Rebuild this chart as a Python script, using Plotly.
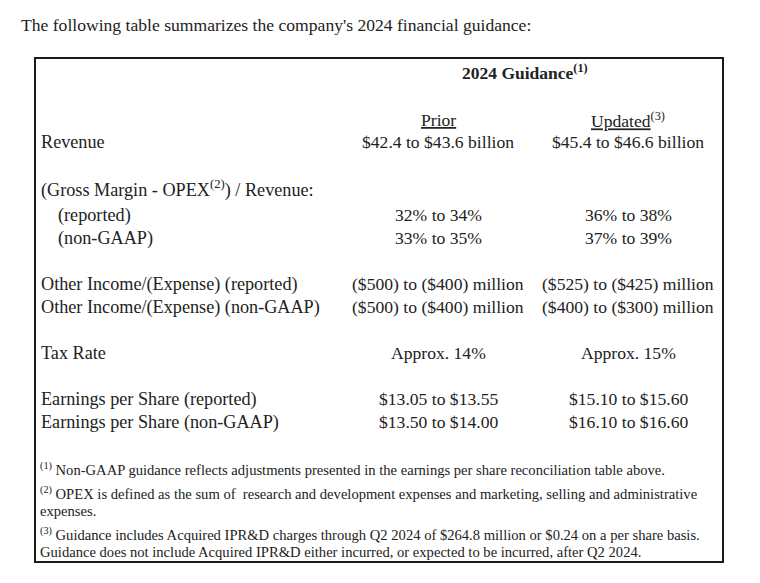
import plotly.graph_objects as go

# ---- data ----
title_text = "The following table summarizes the company's 2024 financial guidance:"
header_text = "2024 Guidance<sup>(1)</sup>"
col_headers = ["<u>Prior</u>", "<u>Updated</u><sup>(3)</sup>"]

row_labels = [
    "Revenue",
    "(Gross Margin - OPEX<sup>(2)</sup>) / Revenue:",
    "(reported)",
    "(non-GAAP)",
    "Other Income/(Expense) (reported)",
    "Other Income/(Expense) (non-GAAP)",
    "Tax Rate",
    "Earnings per Share (reported)",
    "Earnings per Share (non-GAAP)",
]
prior_vals = [
    "$42.4 to $43.6 billion",
    "",
    "32% to 34%",
    "33% to 35%",
    "($500) to ($400) million",
    "($500) to ($400) million",
    "Approx. 14%",
    "$13.05 to $13.55",
    "$13.50 to $14.00",
]
updated_vals = [
    "$45.4 to $46.6 billion",
    "",
    "36% to 38%",
    "37% to 39%",
    "($525) to ($425) million",
    "($400) to ($300) million",
    "Approx. 15%",
    "$15.10 to $15.60",
    "$16.10 to $16.60",
]
footnote_lines = [
    "<sup>(1)</sup> Non-GAAP guidance reflects adjustments presented in the earnings per share reconciliation table above.",
    "<sup>(2)</sup> OPEX is defined as the sum of  research and development expenses and marketing, selling and administrative",
    "expenses.",
    "<sup>(3)</sup> Guidance includes Acquired IPR&D charges through Q2 2024 of $264.8 million or $0.24 on a per share basis.",
    "Guidance does not include Acquired IPR&D either incurred, or expected to be incurred, after Q2 2024.",
]

# ---- layout (pixel coordinates of the page) ----
W, H = 760, 583
OFF = 8  # default page body margin
FONT = "Liberation Serif"
COLOR = "#222222"
row_y = [142, 189, 215, 238, 284, 307, 353, 399, 422]
row_x = [40, 40, 57, 57, 40, 40, 40, 40, 40]
col_x = [438, 628]
foot_y = [469, 493, 511, 534, 552]

fig = go.Figure()
fig.add_trace(go.Scatter(x=[OFF, W], y=[OFF, H], mode="markers",
                         marker=dict(opacity=0), hoverinfo="skip", showlegend=False))

ann = []
def add(text, x, y, size, anchor="left", bold=False):
    ann.append(dict(text=("<b>%s</b>" % text) if bold else text, x=x, y=y,
                    xref="x", yref="y", showarrow=False, xanchor=anchor,
                    yanchor="middle", borderpad=0,
                    font=dict(family=FONT, size=size, color=COLOR)))

add(title_text, 20, 25, 17.6)
add(header_text, 525, 72, 17.5, anchor="center", bold=True)
for t, x in zip(col_headers, col_x):
    add(t, x, 120, 17.6, anchor="center")
for lab, p, u, x0, y in zip(row_labels, prior_vals, updated_vals, row_x, row_y):
    add(lab, x0, y, 18.2)
    if p:
        add(p, col_x[0], y, 17.6, anchor="center")
    if u:
        add(u, col_x[1], y, 17.6, anchor="center")
for t, y in zip(footnote_lines, foot_y):
    add(t, 39, y, 14.6)

fig.update_layout(
    width=W - OFF, height=H - OFF,
    margin=dict(l=0, r=0, t=0, b=0),
    paper_bgcolor="white", plot_bgcolor="white",
    xaxis=dict(range=[OFF, W], visible=False, fixedrange=True),
    yaxis=dict(range=[H, OFF], visible=False, fixedrange=True),
    annotations=ann,
    shapes=[dict(type="rect", xref="x", yref="y", x0=35, y0=58, x1=723, y1=562,
                 line=dict(color="#1a1a1a", width=2))],
)

fig.write_html("out.html")
